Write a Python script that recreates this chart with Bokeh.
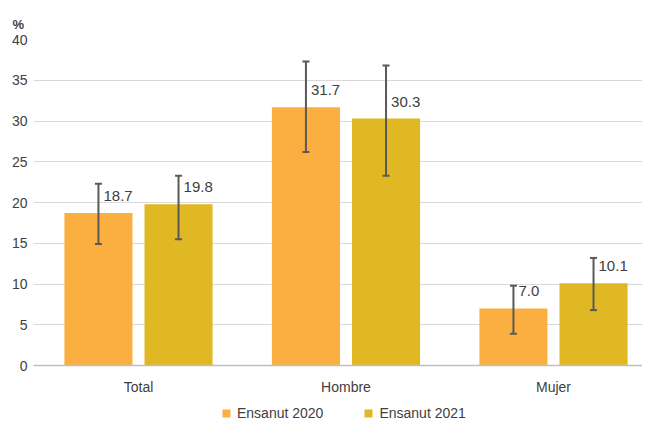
from bokeh.plotting import figure
from bokeh.models import (ColumnDataSource, Range1d, FixedTicker, Whisker, TeeHead,
                          Legend, LegendItem)
from bokeh.transform import dodge
from bokeh.core.properties import value
from bokeh.embed import file_html
from bokeh.resources import INLINE

categories = ["Total", "Hombre", "Mujer"]
series = ["Ensanut 2020", "Ensanut 2021"]
values_2020 = [18.7, 31.7, 7.0]
values_2021 = [19.8, 30.3, 10.1]
lower_2020 = [14.9, 26.2, 3.9]
upper_2020 = [22.3, 37.3, 9.8]
lower_2021 = [15.5, 23.3, 6.8]
upper_2021 = [23.3, 36.8, 13.2]
y_ticks = [0, 5, 10, 15, 20, 25, 30, 35, 40]

FONT = "Liberation Sans"
C2020 = "#FBAF41"
C2021 = "#DFB824"
TXT = "#404040"

idx = list(range(len(categories)))
src = ColumnDataSource(dict(
    idx=idx, cat=categories,
    v20=values_2020, v21=values_2021,
    lab20=[f"{v:.1f}" for v in values_2020],
    lab21=[f"{v:.1f}" for v in values_2021],
    lo20=lower_2020, up20=upper_2020, lo21=lower_2021, up21=upper_2021,
))

# frame runs down to the bottom of the page; the x axis sits at y = 0
p = figure(width=642, height=427, output_backend="svg", toolbar_location=None,
           x_range=Range1d(-0.506, 2.429), y_range=Range1d(-7.6, 40),
           min_border_left=33, min_border_right=0, min_border_top=39,
           min_border_bottom=0)
p.outline_line_color = None
p.background_fill_color = "white"
p.border_fill_color = "white"

p.title.text = "%"
p.title.align = "left"
p.title.vertical_align = "top"
p.title.offset = -21
p.title.standoff = 11
p.title.text_font = FONT
p.title.text_font_size = "13px"
p.title.text_font_style = "bold"
p.title.text_color = TXT

off = 0.193
w = 0.328
r20 = p.vbar(x=dodge("idx", -off), top="v20", width=w, source=src,
             fill_color=C2020, line_color=None)
r21 = p.vbar(x=dodge("idx", off), top="v21", width=w, source=src,
             fill_color=C2021, line_color=None)

for base, lo, up in [(dodge("idx", -off), "lo20", "up20"), (dodge("idx", off), "lo21", "up21")]:
    wh = Whisker(source=src, base=base, lower=lo, upper=up, dimension="height",
                 line_color="#595959", line_width=2, level="overlay",
                 upper_head=TeeHead(size=7, line_color="#595959", line_width=2),
                 lower_head=TeeHead(size=7, line_color="#595959", line_width=2))
    p.add_layout(wh)

for xx, yy, lab in [(dodge("idx", -off), "v20", "lab20"), (dodge("idx", off), "v21", "lab21")]:
    p.text(x=xx, y=yy, text=lab, source=src, x_offset=5, y_offset=-17,
           text_align="left", text_baseline="middle",
           text_font=value(FONT), text_font_size="15px", text_color=TXT)

# axes
p.xaxis.fixed_location = 0
p.xaxis.ticker = FixedTicker(ticks=idx)
p.xaxis.major_label_overrides = {i: c for i, c in zip(idx, categories)}
p.xaxis.major_tick_line_color = None
p.xaxis.minor_tick_line_color = None
p.xaxis.axis_line_color = "#BFBFBF"
p.xaxis.axis_line_width = 1.5
p.xaxis.major_label_text_font = FONT
p.xaxis.major_label_text_font_size = "14px"
p.xaxis.major_label_text_color = TXT
p.xaxis.major_label_standoff = 7

p.yaxis.ticker = FixedTicker(ticks=y_ticks)
p.yaxis.axis_line_color = None
p.yaxis.major_tick_line_color = None
p.yaxis.minor_tick_line_color = None
p.yaxis.major_label_text_font = FONT
p.yaxis.major_label_text_font_size = "14px"
p.yaxis.major_label_text_color = TXT
p.yaxis.major_label_standoff = 0

p.xgrid.grid_line_color = None
p.ygrid.grid_line_color = "#D9D9D9"
p.ygrid.grid_line_width = 1

legend = Legend(items=[LegendItem(label=series[0], renderers=[r20]),
                       LegendItem(label=series[1], renderers=[r21])],
                orientation="horizontal", location=(188, 6),
                glyph_width=10, glyph_height=10, label_standoff=6, spacing=40,
                label_text_font=FONT, label_text_font_size="14px",
                label_text_color=TXT, border_line_color=None,
                background_fill_alpha=0, padding=4, margin=0)
p.add_layout(legend, "center")

open("out.html", "w").write(file_html(p, INLINE))
